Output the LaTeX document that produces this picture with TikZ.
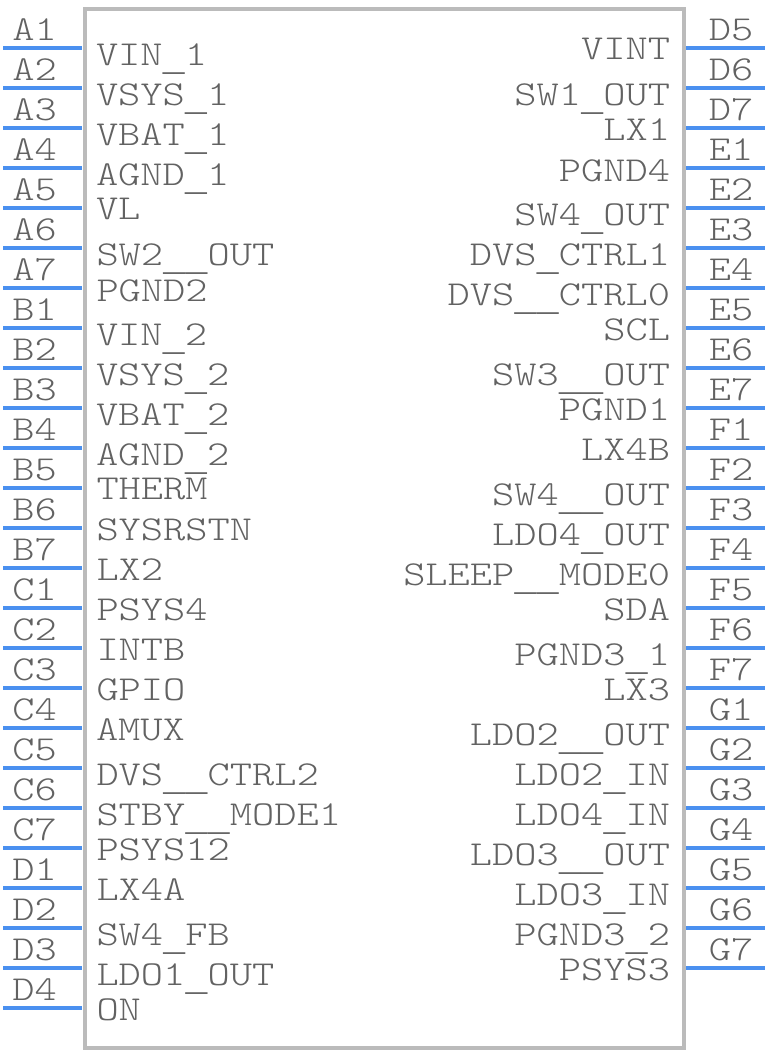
\documentclass[tikz,border=0pt]{standalone}
\usepackage{fontspec}
\newfontfamily\pinfont[FakeStretch=1.21]{Latin Modern Mono Light}
\newfontfamily\usfont{Liberation Mono}
\newcommand{\us}{\raisebox{-5.5pt}{\usfont\fontsize{37}{37}\selectfont\_}}
\definecolor{pinblue}{HTML}{4A90F0}
\definecolor{boxgrey}{HTML}{BBBBBB}
\definecolor{txtgrey}{HTML}{626262}
\tikzset{
  x=1pt,y=-1pt,
  txt/.style={inner sep=0pt,outer sep=0pt,text=txtgrey,font=\pinfont\fontsize{35}{35}\selectfont},
  lname/.style={txt,anchor=base west},
  rname/.style={txt,anchor=base east},
  pinno/.style={txt,anchor=base},
  pinline/.style={draw=pinblue,line width=4pt},
  chip/.style={draw=boxgrey,line width=4pt,fill=white}
}
\begin{document}
\begin{tikzpicture}
\useasboundingbox (0,0) rectangle (768,1052);
\draw[chip] (84.5,8.5) rectangle (684,1048);
\foreach \n [count=\i from 0] in {A1,A2,A3,A4,A5,A6,A7,B1,B2,B3,B4,B5,B6,B7,C1,C2,C3,C4,C5,C6,C7,D1,D2,D3,D4}{
  \pgfmathsetmacro{\yy}{47.6+40*\i}
  \coordinate (p\n a) at (3,\yy);
  \coordinate (p\n b) at (82,\yy);
  \draw[pinline] (p\n a) -- (p\n b);
  \node[pinno] (t\n) at (34.5,\yy-7.6) {\n};
}
\foreach \n [count=\i from 0] in {D5,D6,D7,E1,E2,E3,E4,E5,E6,E7,F1,F2,F3,F4,F5,F6,F7,G1,G2,G3,G4,G5,G6,G7}{
  \pgfmathsetmacro{\yy}{47.6+40*\i}
  \coordinate (p\n a) at (686,\yy);
  \coordinate (p\n b) at (765,\yy);
  \draw[pinline] (p\n a) -- (p\n b);
  \node[pinno] (t\n) at (731,\yy-7.6) {\n};
}
\node[lname] (l1) at (96,65) {VIN\us 1};
\node[lname] (l2) at (96,105) {VSYS\us 1};
\node[lname] (l3) at (96,145) {VBAT\us 1};
\node[lname] (l4) at (96,185) {AGND\us 1};
\node[lname] (l5) at (96,219) {VL};
\node[lname] (l6) at (96.5,265) {SW2\us\us OUT};
\node[lname] (l7) at (96.5,301) {PGND2};
\node[lname] (l8) at (96,345) {VIN\us 2};
\node[lname] (l9) at (96,385) {VSYS\us 2};
\node[lname] (l10) at (96,425) {VBAT\us 2};
\node[lname] (l11) at (96,465) {AGND\us 2};
\node[lname] (l12) at (96.5,499) {THERM};
\node[lname] (l13) at (96.5,540) {SYSRSTN};
\node[lname] (l14) at (96.5,580) {LX2};
\node[lname] (l15) at (96.5,620) {PSYS4};
\node[lname] (l16) at (96.5,660) {INTB};
\node[lname] (l17) at (96.5,700) {GPIO};
\node[lname] (l18) at (96,740) {AMUX};
\node[lname] (l19) at (96.5,785) {DVS\us\us CTRL2};
\node[lname] (l20) at (96.5,825) {STBY\us\us MODE1};
\node[lname] (l21) at (96.5,860) {PSYS12};
\node[lname] (l22) at (96.5,900) {LX4A};
\node[lname] (l23) at (96.5,945) {SW4\us FB};
\node[lname] (l24) at (96.5,985) {LDO1\us OUT};
\node[lname] (l25) at (96.5,1020) {ON};
\node[rname] (r1) at (670,59) {VINT};
\node[rname] (r2) at (670,105) {SW1\us OUT};
\node[rname] (r3) at (670,140) {LX1};
\node[rname] (r4) at (670,181) {PGND4};
\node[rname] (r5) at (670,225) {SW4\us OUT};
\node[rname] (r6) at (670,265) {DVS\us CTRL1};
\node[rname] (r7) at (670,305) {DVS\us\us CTRL0};
\node[rname] (r8) at (670,340) {SCL};
\node[rname] (r9) at (670,385) {SW3\us\us OUT};
\node[rname] (r10) at (670,420) {PGND1};
\node[rname] (r11) at (670,460) {LX4B};
\node[rname] (r12) at (670,505) {SW4\us\us OUT};
\node[rname] (r13) at (670,545) {LDO4\us OUT};
\node[rname] (r14) at (670,585) {SLEEP\us\us MODE0};
\node[rname] (r15) at (670,620) {SDA};
\node[rname] (r16) at (670,665) {PGND3\us 1};
\node[rname] (r17) at (670,700) {LX3};
\node[rname] (r18) at (670,745) {LDO2\us\us OUT};
\node[rname] (r19) at (670,785) {LDO2\us IN};
\node[rname] (r20) at (670,825) {LDO4\us IN};
\node[rname] (r21) at (670,865) {LDO3\us\us OUT};
\node[rname] (r22) at (670,905) {LDO3\us IN};
\node[rname] (r23) at (670,945) {PGND3\us 2};
\node[rname] (r24) at (670,980) {PSYS3};
\end{tikzpicture}
\end{document}
